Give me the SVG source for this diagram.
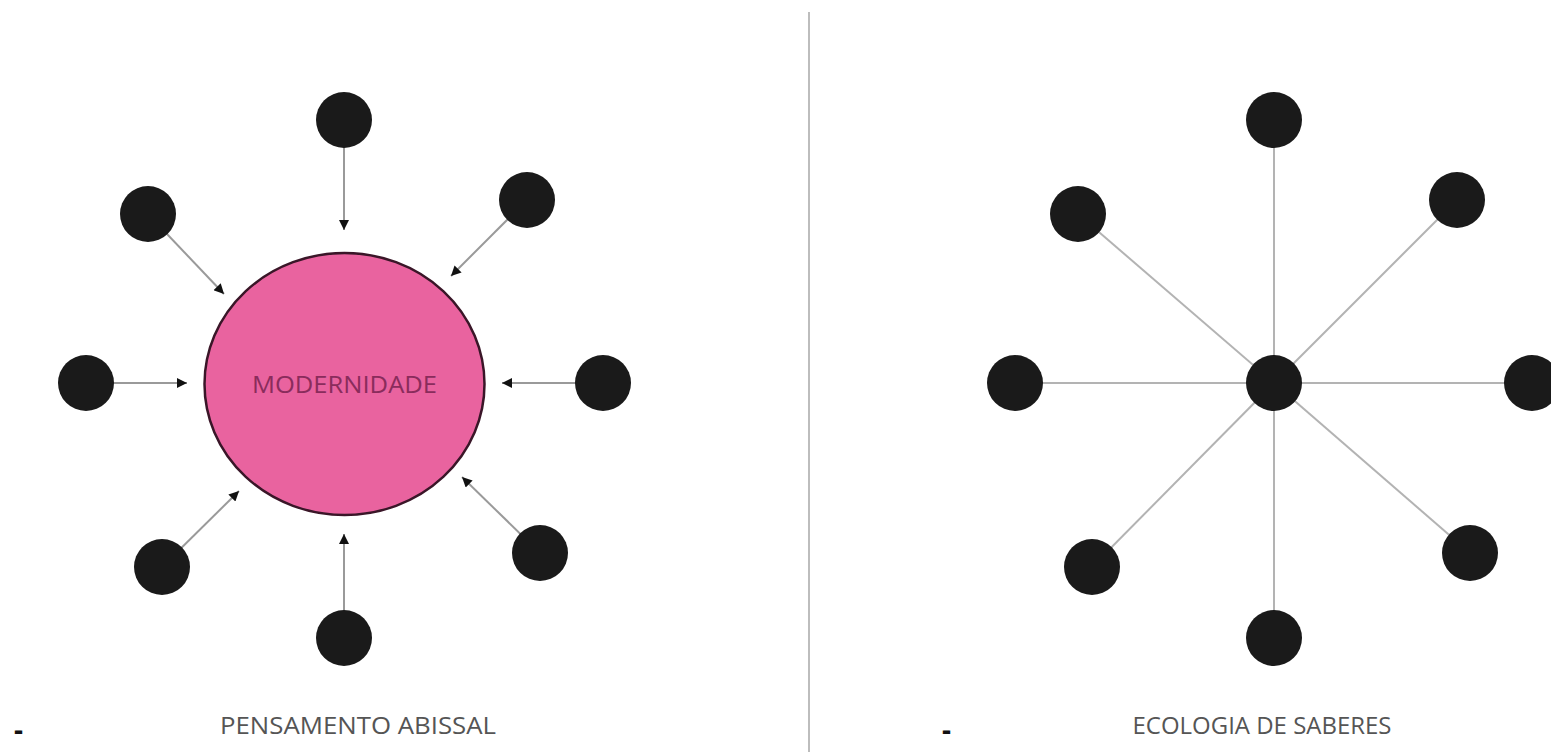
<svg xmlns="http://www.w3.org/2000/svg" width="1551" height="752" viewBox="0 0 1551 752">
<defs>
<style>
.node{fill:#1a1a1a;}
.arrow{stroke:#9a9a9a;stroke-width:2;fill:none;marker-end:url(#ah);}
.spoke{stroke:#b3b3b3;stroke-width:2;fill:none;}
.label{font-family:"Open Sans","Noto Sans",sans-serif;fill:#555555;font-size:23px;}
.dash{font-family:"Open Sans","Noto Sans",sans-serif;fill:#111;font-size:28px;font-weight:bold;}
</style>
<marker id="ah" viewBox="0 0 10 10" refX="10" refY="5" markerWidth="12" markerHeight="10" markerUnits="userSpaceOnUse" orient="auto">
<path d="M0,0 L10,5 L0,10 z" fill="#111"/>
</marker>
</defs>
<rect width="1551" height="752" fill="#ffffff"/>
<line x1="809" y1="12" x2="809" y2="752" stroke="#bdbdbd" stroke-width="2"/>
<g id="connectors">
<line class="arrow" x1="344" y1="120" x2="344" y2="230"/>
<line class="arrow" x1="148" y1="214" x2="224" y2="294"/>
<line class="arrow" x1="527" y1="200" x2="451" y2="276"/>
<line class="arrow" x1="86" y1="383" x2="187" y2="383"/>
<line class="arrow" x1="603" y1="383" x2="502" y2="383"/>
<line class="arrow" x1="162" y1="567" x2="239" y2="491"/>
<line class="arrow" x1="540" y1="553" x2="462" y2="477"/>
<line class="arrow" x1="344" y1="638" x2="344" y2="534"/>
<line class="spoke" x1="1274" y1="383" x2="1274" y2="120"/>
<line class="spoke" x1="1274" y1="383" x2="1078" y2="214"/>
<line class="spoke" x1="1274" y1="383" x2="1457" y2="200"/>
<line class="spoke" x1="1274" y1="383" x2="1015" y2="383"/>
<line class="spoke" x1="1274" y1="383" x2="1532" y2="383"/>
<line class="spoke" x1="1274" y1="383" x2="1092" y2="567"/>
<line class="spoke" x1="1274" y1="383" x2="1470" y2="553"/>
<line class="spoke" x1="1274" y1="383" x2="1274" y2="638"/>
</g>
<g id="modernidade">
<ellipse cx="344.5" cy="384" rx="140" ry="131" fill="#e9639f" stroke="#3a1628" stroke-width="2.5"/>
<text x="344.5" y="393" text-anchor="middle" font-family="'Open Sans','Noto Sans',sans-serif" font-size="24" fill="#8a2c5c" textLength="185" lengthAdjust="spacingAndGlyphs">MODERNIDADE</text>
</g>
<g id="left-nodes">
<circle id="l-top" class="node" cx="344" cy="120" r="28"/>
<circle id="l-topleft" class="node" cx="148" cy="214" r="28"/>
<circle id="l-topright" class="node" cx="527" cy="200" r="28"/>
<circle id="l-left" class="node" cx="86" cy="383" r="28"/>
<circle id="l-right" class="node" cx="603" cy="383" r="28"/>
<circle id="l-botleft" class="node" cx="162" cy="567" r="28"/>
<circle id="l-botright" class="node" cx="540" cy="553" r="28"/>
<circle id="l-bottom" class="node" cx="344" cy="638" r="28"/>
</g>
<g id="right-nodes">
<circle id="r-center" class="node" cx="1274" cy="383" r="28"/>
<circle id="r-top" class="node" cx="1274" cy="120" r="28"/>
<circle id="r-topleft" class="node" cx="1078" cy="214" r="28"/>
<circle id="r-topright" class="node" cx="1457" cy="200" r="28"/>
<circle id="r-left" class="node" cx="1015" cy="383" r="28"/>
<circle id="r-right" class="node" cx="1532" cy="383" r="28"/>
<circle id="r-botleft" class="node" cx="1092" cy="567" r="28"/>
<circle id="r-botright" class="node" cx="1470" cy="553" r="28"/>
<circle id="r-bottom" class="node" cx="1274" cy="638" r="28"/>
</g>
<g id="captions">
<text class="dash" x="14" y="740">-</text>
<text class="label" x="358" y="734" text-anchor="middle" textLength="276" lengthAdjust="spacingAndGlyphs">PENSAMENTO ABISSAL</text>
<text class="dash" x="942" y="740">-</text>
<text class="label" x="1262" y="734" text-anchor="middle" textLength="259" lengthAdjust="spacingAndGlyphs">ECOLOGIA DE SABERES</text>
</g>
</svg>
